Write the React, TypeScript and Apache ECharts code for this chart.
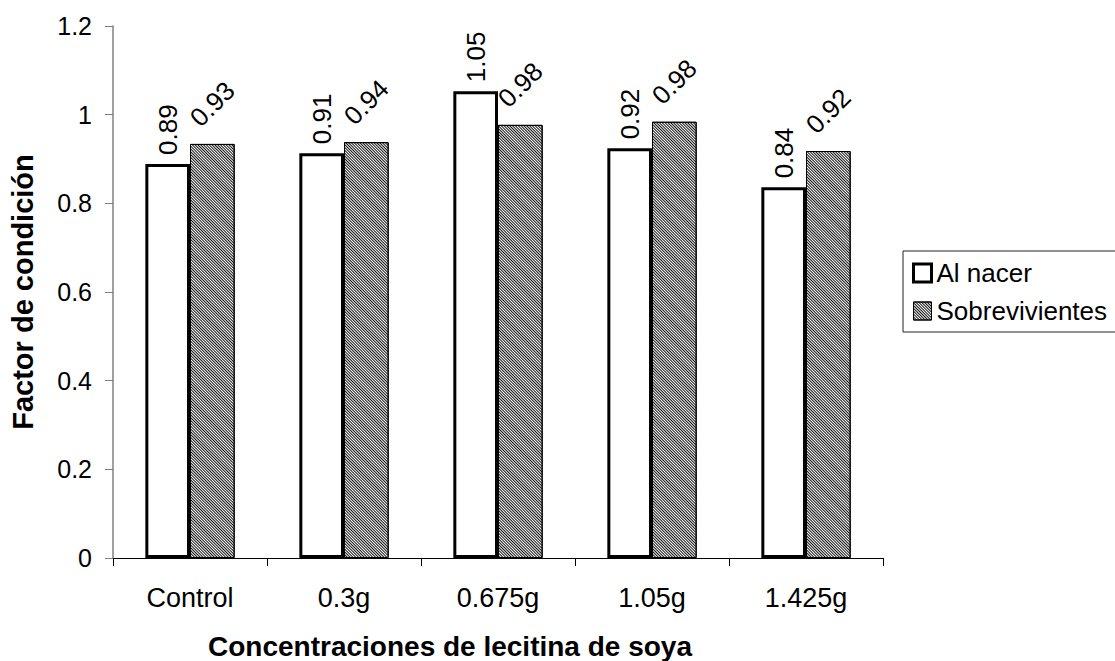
import React, { useEffect, useRef } from "react";
import * as echarts from "echarts";

const categories = ["Control", "0.3g", "0.675g", "1.05g", "1.425g"];
const alNacer = [0.889, 0.913, 1.053, 0.924, 0.836];
const sobrevivientes = [0.934, 0.938, 0.977, 0.984, 0.918];
const yTicks = { min: 0, max: 1.2, interval: 0.2 };

const FONT = "'Liberation Sans', Arial, sans-serif";

export default function App() {
  const ref = useRef<HTMLDivElement>(null);
  useEffect(() => {
    if (!ref.current) return;
    const chart = echarts.init(ref.current, null, { renderer: "svg" });
    const fmt = (p: any) => Number(p.value).toFixed(2);
    chart.setOption({
      animation: false,
      backgroundColor: "#ffffff",
      textStyle: { fontFamily: FONT },
      grid: {
        left: 113,
        right: 232,
        top: 26,
        bottom: 103,
        containLabel: false,
        outerBoundsMode: "none",
      },
      legend: {
        orient: "vertical",
        left: 903,
        top: 251,
        padding: [9, 30, 8, 9],
        itemGap: 12,
        itemWidth: 18,
        itemHeight: 18,
        borderColor: "#222",
        borderWidth: 1,
        icon: "rect",
        textStyle: { fontSize: 26, lineHeight: 26, color: "#000", fontFamily: FONT },
        data: [
          { name: "Al nacer", itemStyle: { borderWidth: 3, borderColor: "#000" } },
          { name: "Sobrevivientes", itemStyle: { borderWidth: 1, borderColor: "#000" } },
        ],
      },
      xAxis: {
        type: "category",
        data: categories,
        name: "Concentraciones de lecitina de soya",
        nameLocation: "middle",
        nameGap: 74,
        nameTextStyle: {
          fontSize: 28,
          fontWeight: "bold",
          color: "#000",
          fontFamily: FONT,
          padding: [0, 96, 0, 0],
        },
        axisLine: { lineStyle: { color: "#000", width: 1 } },
        axisTick: { show: true, length: 8, lineStyle: { color: "#000" } },
        axisLabel: { fontSize: 27, color: "#000", margin: 26, fontFamily: FONT },
      },
      yAxis: {
        type: "value",
        min: yTicks.min,
        max: yTicks.max,
        interval: yTicks.interval,
        name: "Factor de condición",
        nameLocation: "middle",
        nameGap: 76,
        nameTextStyle: { fontSize: 29, fontWeight: "bold", color: "#000", fontFamily: FONT },
        axisLine: { show: true, lineStyle: { color: "#808080", width: 1.5 } },
        axisTick: { show: true, length: 8, lineStyle: { color: "#808080" } },
        axisLabel: { fontSize: 25, color: "#000", margin: 21, fontFamily: FONT },
        splitLine: { show: false },
      },
      series: [
        {
          name: "Al nacer",
          type: "bar",
          data: alNacer,
          barGap: "0%",
          barCategoryGap: "42%",
          itemStyle: { color: "#ffffff", borderColor: "#000", borderWidth: 3 },
          label: {
            show: true,
            position: "top",
            rotate: 90,
            align: "left",
            verticalAlign: "middle",
            distance: 9,
            fontSize: 26,
            color: "#000",
            fontFamily: FONT,
            formatter: fmt,
          },
        },
        {
          name: "Sobrevivientes",
          type: "bar",
          data: sobrevivientes,
          itemStyle: {
            color: "#ffffff",
            borderColor: "#000",
            borderWidth: 1,
            decal: {
              symbol: "rect",
              symbolSize: 1,
              color: "#111",
              dashArrayX: [1, 0],
              dashArrayY: [1, 1],
              rotation: Math.PI / 4,
            },
          },
          label: {
            show: true,
            position: "top",
            rotate: 45,
            align: "center",
            verticalAlign: "middle",
            distance: 40,
            fontSize: 26,
            color: "#000",
            fontFamily: FONT,
            formatter: fmt,
          },
        },
      ],
    });
    return () => chart.dispose();
  }, []);
  return <div ref={ref} style={{ width: 1115, height: 661, position: "absolute", left: 0, top: 0 }} />;
}
